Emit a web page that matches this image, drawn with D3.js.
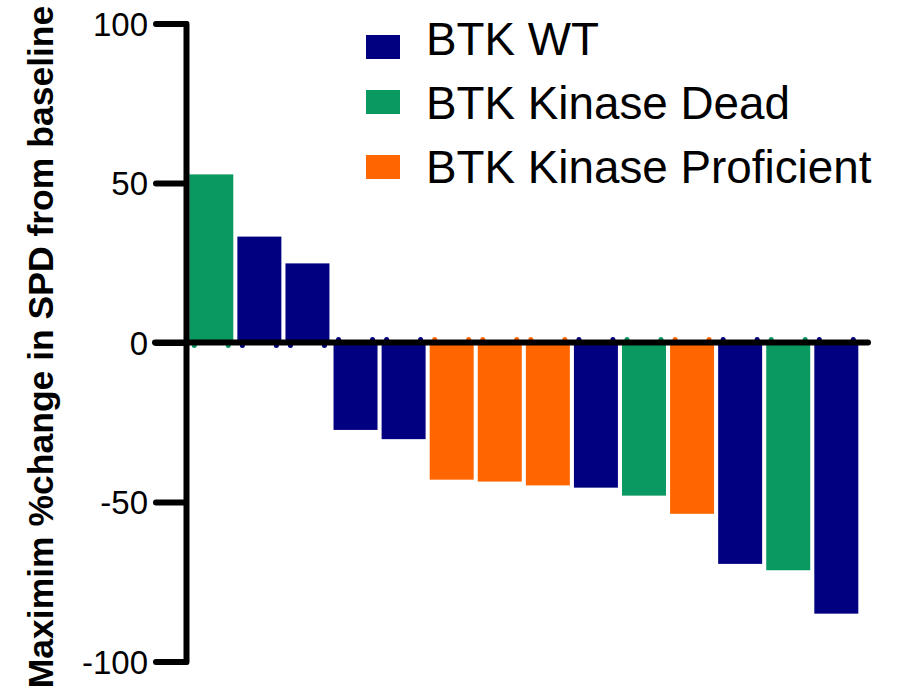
<!DOCTYPE html>
<html><head><meta charset="utf-8">
<script src="https://cdn.jsdelivr.net/npm/d3@7/dist/d3.min.js"></script>
<style>body{margin:0;background:#fff}svg{display:block}</style>
</head><body>
<script>
const patients = d3.range(1, 15).map(String);
const values = [52.7, 33.2, 24.8, -27.4, -30.3, -43.0, -43.6, -44.8, -45.5, -48.0, -53.7, -69.4, -71.4, -85.0];
const groups = ["Kinase Dead","WT","WT","WT","WT","Kinase Proficient","Kinase Proficient","Kinase Proficient","WT","Kinase Dead","Kinase Proficient","WT","Kinase Dead","WT"];
const legendKeys = ["WT","Kinase Dead","Kinase Proficient"];
const legendLabels = ["BTK WT","BTK Kinase Dead","BTK Kinase Proficient"];
const colors = ["#000080","#0a9960","#ff6600"];
const yTicks = [-100,-50,0,50,100];

const W = 902, H = 692;
const svg = d3.select("body").append("svg").attr("width", W).attr("height", H);
const color = d3.scaleOrdinal().domain(legendKeys).range(colors);
const y = d3.scaleLinear().domain([-100, 100]).range([661.5, 23.5]);
const x = d3.scaleBand().domain(patients).range([189.3, 858.3]).paddingInner(0.085).paddingOuter(0);

const data = patients.map((p,i)=>({p, v: values[i], g: groups[i]}));

// small baseline dots
const dots = [];
data.forEach(d => {
  const s = d.v > 0 ? 1 : -1;
  [x(d.p)+5, x(d.p)+x.bandwidth()-5].forEach(cx => dots.push({cx, cy: y(0) + s*3, g: d.g}));
});
svg.append("g").selectAll("circle").data(dots).join("circle")
  .attr("cx", d=>d.cx).attr("cy", d=>d.cy).attr("r", 2.5).attr("fill", d=>color(d.g));

// bars
svg.append("g").selectAll("rect").data(data).join("rect")
  .attr("x", d=>x(d.p)).attr("width", x.bandwidth())
  .attr("y", d=>y(Math.max(0,d.v))).attr("height", d=>Math.abs(y(d.v)-y(0)))
  .attr("fill", d=>color(d.g));

// zero line
svg.append("line").attr("x1",155).attr("x2",868).attr("y1",y(0)).attr("y2",y(0))
  .attr("stroke","#000").attr("stroke-width",6).attr("stroke-linecap","round");

// y axis
const ax = svg.append("g").attr("transform","translate(186,0)")
  .call(d3.axisLeft(y).tickValues(yTicks).tickFormat(d=>String(d)).tickSize(30).tickSizeOuter(0).tickPadding(8));
ax.select(".domain").attr("stroke","#000").attr("stroke-width",6).attr("stroke-linecap","round");
ax.selectAll(".tick line").attr("stroke","#000").attr("stroke-width",6).attr("stroke-linecap","round");
ax.selectAll(".tick text").attr("font-family","Liberation Sans, Arial, sans-serif")
  .attr("font-size",33).attr("fill","#000").attr("dy","0.36em");

// y title
svg.append("text").attr("transform","translate(53,347) rotate(-90)")
  .attr("text-anchor","middle").attr("font-family","Liberation Sans, Arial, sans-serif")
  .attr("font-weight","bold").attr("font-size",35.5).attr("fill","#000")
  .text("Maximim %change in SPD from baseline");

// legend
const legendBaselines = [55, 118.5, 182.5];
const legendSquareTops = [35, 90, 155];
const lg = svg.append("g");
legendKeys.forEach((k,i)=>{
  lg.append("rect").attr("x",366).attr("y",legendSquareTops[i]).attr("width",34).attr("height",24).attr("fill",colors[i]);
  lg.append("text").attr("x",426).attr("y",legendBaselines[i]).attr("font-family","Liberation Sans, Arial, sans-serif")
    .attr("font-size",45.8).attr("fill","#000").text(legendLabels[i]);
});
</script>
</body></html>
